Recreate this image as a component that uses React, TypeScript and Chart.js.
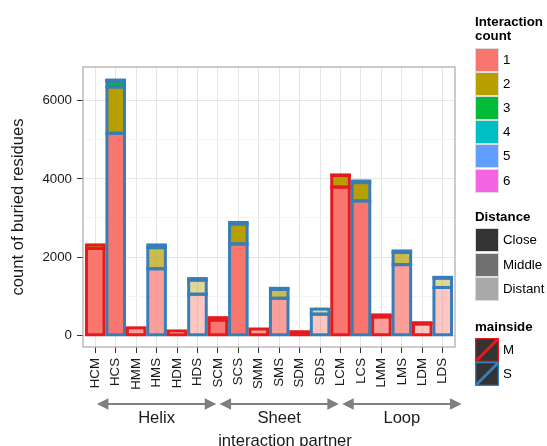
import React, { useEffect, useRef } from "react";
import { Chart, registerables } from "chart.js";

Chart.register(...registerables);

// ---------- data ----------
const categories = ["HCM", "HCS", "HMM", "HMS", "HDM", "HDS", "SCM", "SCS", "SMM", "SMS", "SDM", "SDS", "LCM", "LCS", "LMM", "LMS", "LDM", "LDS"];
const count1 = [2220, 5166, 190, 1700, 110, 1050, 390, 2335, 160, 946, 90, 540, 3790, 3435, 470, 1806, 290, 1222];
const count2 = [90, 1184, 0, 540, 0, 360, 60, 510, 0, 230, 0, 130, 295, 470, 50, 310, 30, 240];
const count3 = [0, 150, 0, 70, 0, 40, 0, 40, 0, 25, 0, 0, 15, 40, 0, 40, 0, 20];
const count4 = [0, 15, 0, 0, 0, 0, 0, 0, 0, 0, 0, 0, 0, 0, 0, 0, 0, 0];
const count5 = [0, 5, 0, 0, 0, 0, 0, 0, 0, 0, 0, 0, 0, 0, 0, 0, 0, 0];
const count6 = [0, 2, 0, 0, 0, 0, 0, 0, 0, 0, 0, 0, 0, 0, 0, 0, 0, 0];

const countLevels = ["1", "2", "3", "4", "5", "6"];
const countColors = ["#F8766D", "#B79F00", "#00BA38", "#00BFC4", "#619CFF", "#F564E3"];
const distanceLevels = ["Close", "Middle", "Distant"];
const distanceCodes = ["C", "M", "D"];
const distanceAlpha = [1, 0.7, 0.42];
const mainsideLevels = ["M", "S"];
const mainsideColors = ["#E41A1C", "#377EB8"];
const groups = ["Helix", "Sheet", "Loop"];
const groupStarts = [0, 6, 12];
const groupSizes = [6, 6, 6];
const yLabelTicks = [0, 2000, 4000, 6000];
const yMinorTicks = [1000, 3000, 5000];

// ---------- style ----------
const FONT = "'Liberation Sans', Arial, Helvetica, sans-serif";
const TEXT = "#1a1a1a";
const GRID_MAJOR = "#e6e6e6";
const GRID_MINOR = "#f4f4f4";
const SMALL = 13.3;
const BIG = 16.6;

function hexToRgba(hex: string, a: number) {
  const n = parseInt(hex.slice(1), 16);
  return `rgba(${(n >> 16) & 255},${(n >> 8) & 255},${n & 255},${a})`;
}
const distanceIndex = (cat: string) => distanceCodes.indexOf(cat[1]);
const sideIndex = (cat: string) => mainsideLevels.indexOf(cat[2]);

const countSeries = [count1, count2, count3, count4, count5, count6];

const outlinePlugin = {
  id: "barOutlines",
  afterDatasetsDraw(chart: any) {
    const ctx = chart.ctx;
    ctx.save();
    ctx.lineWidth = 3;
    chart.data.datasets.forEach((ds: any, di: number) => {
      const meta = chart.getDatasetMeta(di);
      meta.data.forEach((el: any, j: number) => {
        const v = ds.data[j].y;
        if (!v) return;
        const p = el.getProps(["x", "y", "base", "width"], true);
        ctx.strokeStyle = mainsideColors[sideIndex(categories[j])];
        const top = Math.min(p.y, p.base);
        ctx.strokeRect(p.x - p.width / 2, top, p.width, Math.abs(p.base - p.y));
      });
    });
    ctx.restore();
  },
};

const annotationPlugin = {
  id: "annotations",
  afterDraw(chart: any) {
    const { ctx, chartArea: a } = chart;
    const x = chart.scales.x;
    ctx.save();
    // panel border
    ctx.strokeStyle = "#aaaaaa";
    ctx.lineWidth = 1.2;
    ctx.strokeRect(a.left, a.top, a.right - a.left, a.bottom - a.top);

    // group arrows + labels
    const arrowY = a.bottom + 57;
    const head = 11.5;
    const half = 5.8;
    ctx.fillStyle = "#7f7f7f";
    ctx.strokeStyle = "#7f7f7f";
    ctx.lineWidth = 2;
    groups.forEach((g, k) => {
      const x0 = x.getPixelForValue(groupStarts[k] + 0.08);
      const x1 = x.getPixelForValue(groupStarts[k] + groupSizes[k] - 0.08);
      ctx.beginPath();
      ctx.moveTo(x0 + head - 1, arrowY);
      ctx.lineTo(x1 - head + 1, arrowY);
      ctx.stroke();
      ctx.beginPath();
      ctx.moveTo(x0, arrowY);
      ctx.lineTo(x0 + head, arrowY - half);
      ctx.lineTo(x0 + head, arrowY + half);
      ctx.closePath();
      ctx.fill();
      ctx.beginPath();
      ctx.moveTo(x1, arrowY);
      ctx.lineTo(x1 - head, arrowY - half);
      ctx.lineTo(x1 - head, arrowY + half);
      ctx.closePath();
      ctx.fill();
    });
    ctx.fillStyle = TEXT;
    ctx.font = `${BIG}px ${FONT}`;
    ctx.textAlign = "center";
    ctx.textBaseline = "alphabetic";
    groups.forEach((g, k) => {
      const cx = x.getPixelForValue(groupStarts[k] + (groupSizes[k] - 1) / 2 + 0.5);
      ctx.fillText(g, cx, a.bottom + 75.7);
    });
    // x axis title
    ctx.fillText("interaction partner", 285, a.bottom + 98.5);
    ctx.restore();
  },
};

function Swatch({ fill, stroke, diag }: { fill: string; stroke?: string; diag?: string }) {
  return (
    <svg width={24} height={24} style={{ display: "block" }}>
      <rect x={0} y={0} width={24} height={24} fill="#ffffff" />
      <rect x={0.5} y={0.5} width={23} height={23} fill={fill} stroke={stroke || "#dcdcdc"} strokeWidth={stroke ? 1.6 : 1} />
      {diag ? <line x1={0.5} y1={23.5} x2={23.5} y2={0.5} stroke={diag} strokeWidth={3} /> : null}
    </svg>
  );
}

function LegendBlock({ top, title, items }: { top: number; title: string[]; items: { label: string; swatch: React.ReactNode }[] }) {
  return (
    <div style={{ position: "absolute", left: 475, top, fontFamily: FONT, color: "#000" }}>
      <div style={{ fontWeight: "bold", fontSize: SMALL, lineHeight: "14.3px" }}>
        {title.map((t) => (
          <div key={t}>{t}</div>
        ))}
      </div>
      <div style={{ marginTop: 4 }}>
        {items.map((it) => (
          <div key={it.label} style={{ display: "flex", alignItems: "center", height: 24.2 }}>
            {it.swatch}
            <span style={{ fontSize: SMALL, marginLeft: 4, lineHeight: "14px" }}>{it.label}</span>
          </div>
        ))}
      </div>
    </div>
  );
}

export default function App() {
  const ref = useRef<HTMLCanvasElement | null>(null);

  useEffect(() => {
    if (!ref.current) return;
    const datasets = countSeries.map((vals, k) => ({
      label: countLevels[k],
      data: vals.map((v, i) => ({ x: i, y: v })),
      backgroundColor: categories.map((c) => hexToRgba(countColors[k], distanceAlpha[distanceIndex(c)])),
      borderWidth: 0,
      stack: "s",
      barPercentage: 0.86,
      categoryPercentage: 1,
    }));

    const chart = new Chart(ref.current, {
      type: "bar",
      data: { datasets } as any,
      options: {
        animation: false,
        responsive: false,
        devicePixelRatio: 1,
        layout: { padding: { left: 0, right: 92, top: 67, bottom: 0 } },
        plugins: { legend: { display: false }, tooltip: { enabled: false } },
        scales: {
          x: {
            type: "linear",
            stacked: true,
            min: -0.6,
            max: 17.6,
            offset: false,
            afterBuildTicks: (s: any) => {
              s.ticks = categories.map((_, i) => ({ value: i }));
            },
            afterFit: (s: any) => {
              s.height = 99;
            },
            grid: { offset: false, color: GRID_MAJOR, tickColor: "#333333", tickLength: 6, lineWidth: 1 },
            border: { display: false },
            ticks: {
              autoSkip: false,
              maxRotation: 90,
              minRotation: 90,
              padding: 5,
              color: TEXT,
              font: { family: FONT, size: SMALL },
              callback: (_v: any, i: number) => categories[i] ?? "",
            },
          },
          y: {
            type: "linear",
            stacked: true,
            min: -300,
            max: 6860,
            afterBuildTicks: (s: any) => {
              s.ticks = [...yLabelTicks, ...yMinorTicks].sort((p, q) => p - q).map((v) => ({ value: v }));
            },
            afterFit: (s: any) => {
              s.width = 83;
            },
            grid: {
              color: (c: any) => (yLabelTicks.includes(c.tick?.value) ? GRID_MAJOR : GRID_MINOR),
              tickColor: (c: any) => (yLabelTicks.includes(c.tick?.value) ? "#333333" : "rgba(0,0,0,0)"),
              tickLength: 6,
              lineWidth: 1,
            },
            border: { display: false },
            ticks: {
              padding: 5,
              color: TEXT,
              font: { family: FONT, size: SMALL },
              callback: (v: any) => (yLabelTicks.includes(Number(v)) ? String(v) : ""),
            },
            title: {
              display: true,
              text: "count of buried residues",
              color: TEXT,
              font: { family: FONT, size: BIG },
              padding: { top: 8, bottom: 0 },
            },
          },
        },
      } as any,
      plugins: [outlinePlugin, annotationPlugin],
    });
    return () => chart.destroy();
  }, []);

  return (
    <div style={{ position: "absolute", left: 0, top: 0, width: 547, height: 446, background: "#fff", overflow: "hidden" }}>
      <canvas ref={ref} width={547} height={446} style={{ display: "block" }} />
      <LegendBlock
        top={15}
        title={["Interaction", "count"]}
        items={countLevels.map((l, k) => ({ label: l, swatch: <Swatch fill={countColors[k]} /> }))}
      />
      <LegendBlock
        top={210}
        title={["Distance"]}
        items={distanceLevels.map((l, k) => ({ label: l, swatch: <Swatch fill={hexToRgba("#333333", distanceAlpha[k])} /> }))}
      />
      <LegendBlock
        top={319.5}
        title={["mainside"]}
        items={mainsideLevels.map((l, k) => ({
          label: l,
          swatch: <Swatch fill="#333333" stroke={mainsideColors[k]} diag={mainsideColors[k]} />,
        }))}
      />
    </div>
  );
}
